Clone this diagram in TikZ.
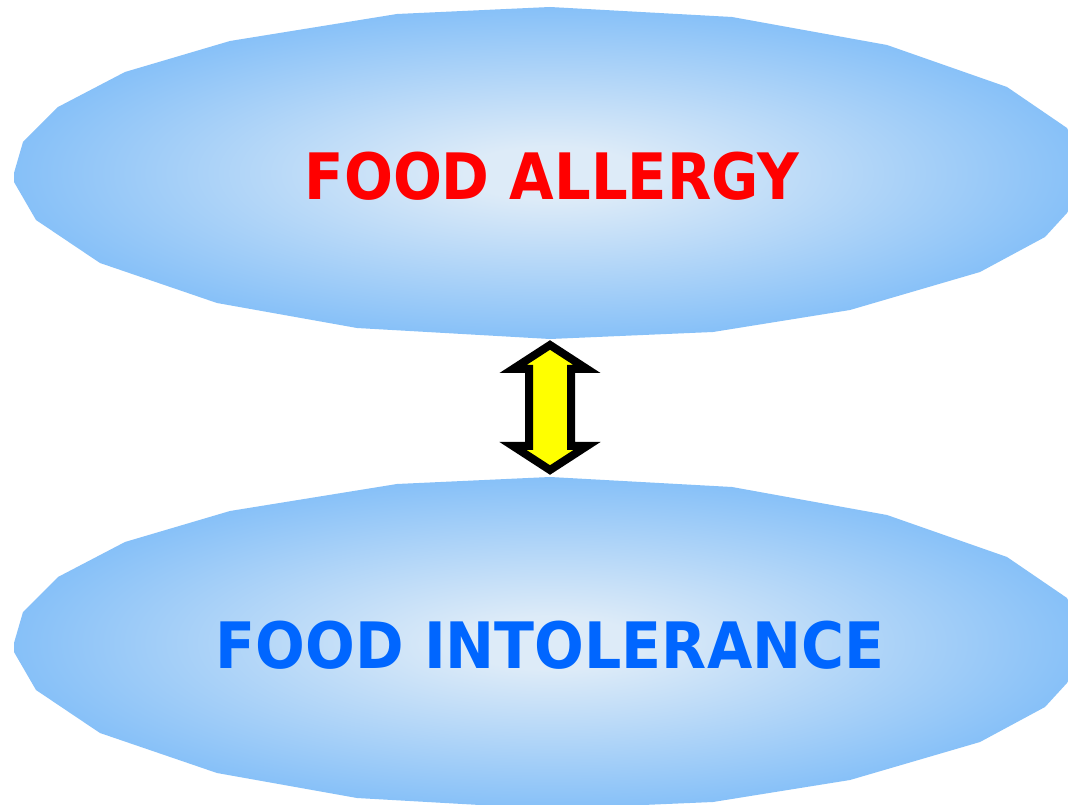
\documentclass[tikz,border=0pt]{standalone}
\usepackage{fontspec}
\setmainfont{DejaVu Sans}
\definecolor{blobout}{HTML}{82BEF8}
\definecolor{blobin}{HTML}{DDEBF8}
\definecolor{allergyred}{HTML}{FF0000}
\definecolor{intolblue}{HTML}{0066FF}
\definecolor{arrowyellow}{HTML}{FFFF00}
\pgfdeclareradialshading{blobshade}{\pgfpoint{0bp}{0bp}}{color(0bp)=(blobin); color(4bp)=(blobin); color(26bp)=(blobout); color(50bp)=(blobout)}
\tikzset{
  blob/.style={shading=blobshade, draw=none},
  label/.style={font=\bfseries\fontsize{48}{56}\selectfont, inner sep=0pt},
  arrowbody/.style={fill=arrowyellow, draw=black, line width=6pt, line join=miter}
}
\begin{document}
\begin{tikzpicture}[x=0.75pt, y=-0.75pt]
\useasboundingbox (0,0) rectangle (1068,805);
\fill[white] (0,0) rectangle (1068,805);
% ellipse outline (polygonal)
\def\blobpath{(550,7) -- (732,17) -- (887,45) -- (1007,87) -- (1067,128) -- (1088,172) -- (1067,213) -- (1045,237) -- (980,272) -- (850,310) -- (713,332) -- (550,339) -- (357,328) -- (217,303) -- (100,263) -- (36,220) -- (14,182) -- (14,173) -- (23,142) -- (58,107) -- (125,72) -- (230,41) -- (397,14) -- cycle}
\shade[blob] \blobpath;
\begin{scope}[yshift=-470*0.75pt]
\shade[blob] \blobpath;
\end{scope}
\node[label, text=allergyred, xscale=0.9] (allergy) at (552,176) {FOOD ALLERGY};
\node[label, text=intolblue, xscale=0.915] (intol) at (550,645) {FOOD INTOLERANCE};
% double block arrow
\coordinate (atop) at (550,345);
\coordinate (abot) at (550,470);
\draw[arrowbody] (atop) -- (587,369) -- (571,369) -- (571,446) -- (587,446) -- (abot) -- (513,446) -- (529,446) -- (529,369) -- (513,369) -- cycle;
\end{tikzpicture}
\end{document}
